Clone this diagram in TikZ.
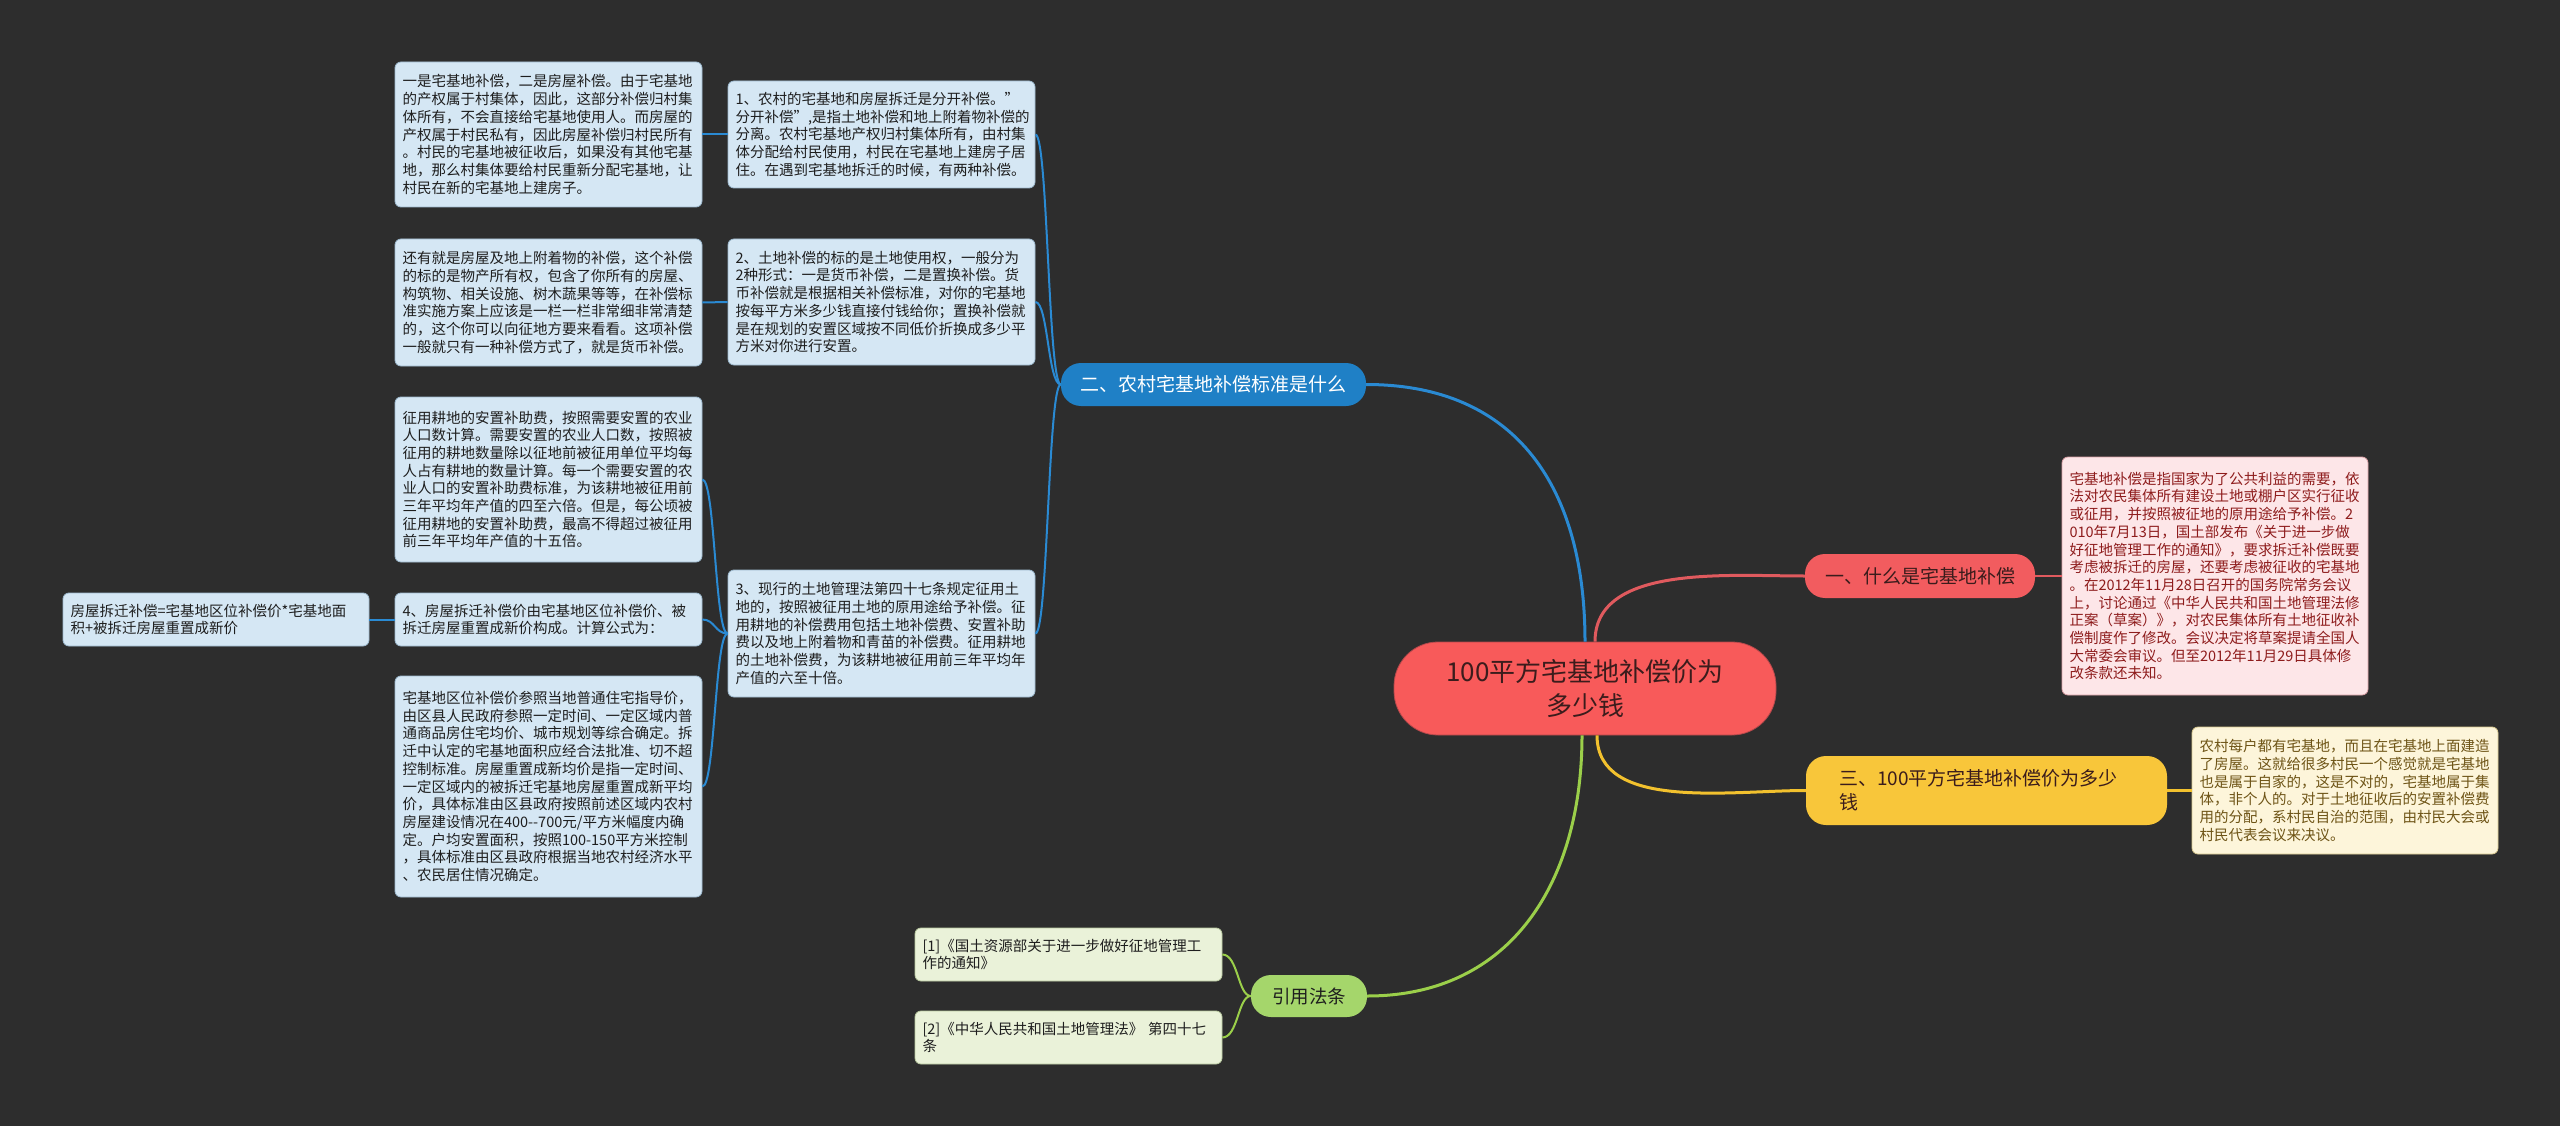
\documentclass[tikz,border=0pt]{standalone}
\usepackage{fontspec}
\setmainfont{Noto Sans CJK SC}
\usetikzlibrary{calc}
\exhyphenpenalty=10000
\hyphenpenalty=10000
\definecolor{bgc}{HTML}{2D2D2D}
\definecolor{bfill}{HTML}{D5E7F4}
\definecolor{bline}{HTML}{9DB9CE}
\definecolor{txt}{HTML}{1E1E1E}
\definecolor{bluen}{HTML}{1F80C6}
\definecolor{bluel}{HTML}{2A8AD3}
\definecolor{redc}{HTML}{F85A5A}
\definecolor{redn}{HTML}{F25C5F}
\definecolor{redl}{HTML}{E05A5E}
\definecolor{redt}{HTML}{3B1C1C}
\definecolor{pfill}{HTML}{FDE6E8}
\definecolor{pline}{HTML}{D9A0A5}
\definecolor{ptxt}{HTML}{8E1C1C}
\definecolor{yeln}{HTML}{F8C63A}
\definecolor{yell}{HTML}{F2C12E}
\definecolor{yfill}{HTML}{FDF5DA}
\definecolor{yline}{HTML}{D8C890}
\definecolor{ytxt}{HTML}{6E5416}
\definecolor{grnn}{HTML}{A5D66B}
\definecolor{grnl}{HTML}{9BCF4A}
\definecolor{gfill}{HTML}{EAF2D9}
\definecolor{gline}{HTML}{B9C9A0}
\tikzset{
  infobox/.style={draw=bline, fill=bfill, line width=0.8pt, rounded corners=6pt,
    text=txt, align=left, inner xsep=7.5pt, inner ysep=0pt, text width=292pt,
    font=\fontsize{14.5}{17.7}\selectfont, anchor=center},
  pinkbox/.style={infobox, draw=pline, fill=pfill, text=ptxt},
  yelbox/.style={infobox, draw=yline, fill=yfill, text=ytxt},
  grnbox/.style={infobox, draw=gline, fill=gfill, text=txt},
  topic/.style={rounded corners=20pt, inner sep=0pt, align=center, anchor=center,
    font=\fontsize{19}{24}\selectfont},
  bcon/.style={draw=bluel, line width=2pt},
  mcon/.style={line width=3pt},
}
\begin{document}
\begin{tikzpicture}[x=1pt,y=-1pt]
\useasboundingbox (0,0) rectangle (2560,1126);
\fill[bgc] (0,0) rectangle (2560,1126);

% central topic
\node[topic, fill=redc, draw=redl!80!black, line width=0.8pt, rounded corners=44pt,
  minimum width=382pt, minimum height=93pt, text=redt,
  font=\fontsize{26}{34}\selectfont] (c) at (1585,688.5) {100平方宅基地补偿价为\\多少钱};

% main branches
\node[topic, fill=bluen, text=white, minimum width=305pt, minimum height=43pt] (n2) at (1213.5,384.5) {二、农村宅基地补偿标准是什么};
\node[topic, fill=redn, text=redt, minimum width=230pt, minimum height=44pt] (n1) at (1920,576) {一、什么是宅基地补偿};
\node[topic, fill=yeln, text=redt, minimum width=361pt, minimum height=69pt, align=left,
  text width=295pt] (n3) at (1986.5,790.5) {三、100平方宅基地补偿价为多少\\钱};
\node[topic, fill=grnn, text=txt, minimum width=116pt, minimum height=42pt,
  font=\fontsize{18.5}{24}\selectfont] (ref) at (1309,996) {引用法条};

% detail boxes
\node[infobox, minimum height=145pt] (b1) at (548.5,134.5) {一是宅基地补偿，二是房屋补偿。由于宅基地\\的产权属于村集体，因此，这部分补偿归村集\\体所有，不会直接给宅基地使用人。而房屋的\\产权属于村民私有，因此房屋补偿归村民所有\\。村民的宅基地被征收后，如果没有其他宅基\\地，那么村集体要给村民重新分配宅基地，让\\村民在新的宅基地上建房子。};
\node[infobox, minimum height=107pt] (b2) at (881.5,134.5) {1、农村的宅基地和房屋拆迁是分开补偿。"\\分开补偿",是指土地补偿和地上附着物补偿的\\分离。农村宅基地产权归村集体所有，由村集\\体分配给村民使用，村民在宅基地上建房子居\\住。在遇到宅基地拆迁的时候，有两种补偿。};
\node[infobox, minimum height=127pt] (b3) at (548.5,302.5) {还有就是房屋及地上附着物的补偿，这个补偿\\的标的是物产所有权，包含了你所有的房屋、\\构筑物、相关设施、树木蔬果等等，在补偿标\\准实施方案上应该是一栏一栏非常细非常清楚\\的，这个你可以向征地方要来看看。这项补偿\\一般就只有一种补偿方式了，就是货币补偿。};
\node[infobox, minimum height=126pt] (b4) at (881.5,302) {2、土地补偿的标的是土地使用权，一般分为\\2种形式：一是货币补偿，二是置换补偿。货\\币补偿就是根据相关补偿标准，对你的宅基地\\按每平方米多少钱直接付钱给你；置换补偿就\\是在规划的安置区域按不同低价折换成多少平\\方米对你进行安置。};
\node[infobox, minimum height=165pt] (b5) at (548.5,479.5) {征用耕地的安置补助费，按照需要安置的农业\\人口数计算。需要安置的农业人口数，按照被\\征用的耕地数量除以征地前被征用单位平均每\\人占有耕地的数量计算。每一个需要安置的农\\业人口的安置补助费标准，为该耕地被征用前\\三年平均年产值的四至六倍。但是，每公顷被\\征用耕地的安置补助费，最高不得超过被征用\\前三年平均年产值的十五倍。};
\node[infobox, minimum height=127pt] (b6) at (881.5,633.5) {3、现行的土地管理法第四十七条规定征用土\\地的，按照被征用土地的原用途给予补偿。征\\用耕地的补偿费用包括土地补偿费、安置补助\\费以及地上附着物和青苗的补偿费。征用耕地\\的土地补偿费，为该耕地被征用前三年平均年\\产值的六至十倍。};
\node[infobox, minimum height=53pt] (b7) at (548.5,619.5) {4、房屋拆迁补偿价由宅基地区位补偿价、被\\拆迁房屋重置成新价构成。计算公式为：};
\node[infobox, text width=291pt, minimum height=53pt] (b8) at (216,619.5) {房屋拆迁补偿=宅基地区位补偿价*宅基地面\\积+被拆迁房屋重置成新价};
\node[infobox, minimum height=221pt] (b9) at (548.5,786.5) {宅基地区位补偿价参照当地普通住宅指导价，\\由区县人民政府参照一定时间、一定区域内普\\通商品房住宅均价、城市规划等综合确定。拆\\迁中认定的宅基地面积应经合法批准、切不超\\控制标准。房屋重置成新均价是指一定时间、\\一定区域内的被拆迁宅基地房屋重置成新平均\\价，具体标准由区县政府按照前述区域内农村\\房屋建设情况在400{-}{-}700元/平方米幅度内确\\定。户均安置面积，按照100-150平方米控制\\，具体标准由区县政府根据当地农村经济水平\\、农民居住情况确定。};
\node[pinkbox, text width=291pt, minimum height=238pt] (p) at (2215,576) {宅基地补偿是指国家为了公共利益的需要，依\\法对农民集体所有建设土地或棚户区实行征收\\或征用，并按照被征地的原用途给予补偿。2\\010年7月13日，国土部发布《关于进一步做\\好征地管理工作的通知》，要求拆迁补偿既要\\考虑被拆迁的房屋，还要考虑被征收的宅基地\\。在2012年11月28日召开的国务院常务会议\\上，讨论通过《中华人民共和国土地管理法修\\正案（草案）》，对农民集体所有土地征收补\\偿制度作了修改。会议决定将草案提请全国人\\大常委会审议。但至2012年11月29日具体修\\改条款还未知。};
\node[yelbox, text width=291pt, minimum height=127pt] (y) at (2345,790.5) {农村每户都有宅基地，而且在宅基地上面建造\\了房屋。这就给很多村民一个感觉就是宅基地\\也是属于自家的，这是不对的，宅基地属于集\\体，非个人的。对于土地征收后的安置补偿费\\用的分配，系村民自治的范围，由村民大会或\\村民代表会议来决议。};
\node[grnbox, minimum height=53pt] (g1) at (1068.5,954.5) {[1]《国土资源部关于进一步做好征地管理工\\作的通知》};
\node[grnbox, minimum height=53pt] (g2) at (1068.5,1037.5) {[2]《中华人民共和国土地管理法》 第四十七\\条};

% trunk positions
\coordinate (t2) at (1048,0);
\coordinate (t6) at (715,0);
\coordinate (tr) at (1238,0);

% main connectors
\draw[mcon, draw=bluel] (c.north) to[out=90, in=0, looseness=1.15] (n2.east);
\draw[mcon, draw=redl] ($(c.north)+(10,0)$) to[out=90, in=180, looseness=0.9] (n1.west);
\draw[mcon, draw=yell] ($(c.south)+(12,0)$) to[out=-90, in=180, looseness=0.9] (n3.west);
\draw[mcon, draw=grnl] ($(c.south)+(-3,0)$) to[out=-90, in=0, looseness=1.1] (ref.east);

% second-level connectors
\draw[bcon] (n2.west) .. controls (n2.west -| t2) and (b2.east -| t2) .. (b2.east);
\draw[bcon] (n2.west) .. controls (n2.west -| t2) and (b4.east -| t2) .. (b4.east);
\draw[bcon] (n2.west) .. controls (n2.west -| t2) and (b6.east -| t2) .. (b6.east);
\draw[bcon] (b2.west) -- (b1.east);
\draw[bcon] (b4.west) -- (b3.east);
\draw[bcon] (b6.west) .. controls (b6.west -| t6) and (b5.east -| t6) .. (b5.east);
\draw[bcon] (b6.west) .. controls (b6.west -| t6) and (b7.east -| t6) .. (b7.east);
\draw[bcon] (b6.west) .. controls (b6.west -| t6) and (b9.east -| t6) .. (b9.east);
\draw[bcon] (b7.west) -- (b8.east);
\draw[line width=2.5pt, draw=redl] (n1.east) -- (p.west);
\draw[line width=2.5pt, draw=yell] (n3.east) -- (y.west);
\draw[line width=2pt, draw=grnl] (ref.west) .. controls (ref.west -| tr) and (g1.east -| tr) .. (g1.east);
\draw[line width=2pt, draw=grnl] (ref.west) .. controls (ref.west -| tr) and (g2.east -| tr) .. (g2.east);
\end{tikzpicture}
\end{document}
